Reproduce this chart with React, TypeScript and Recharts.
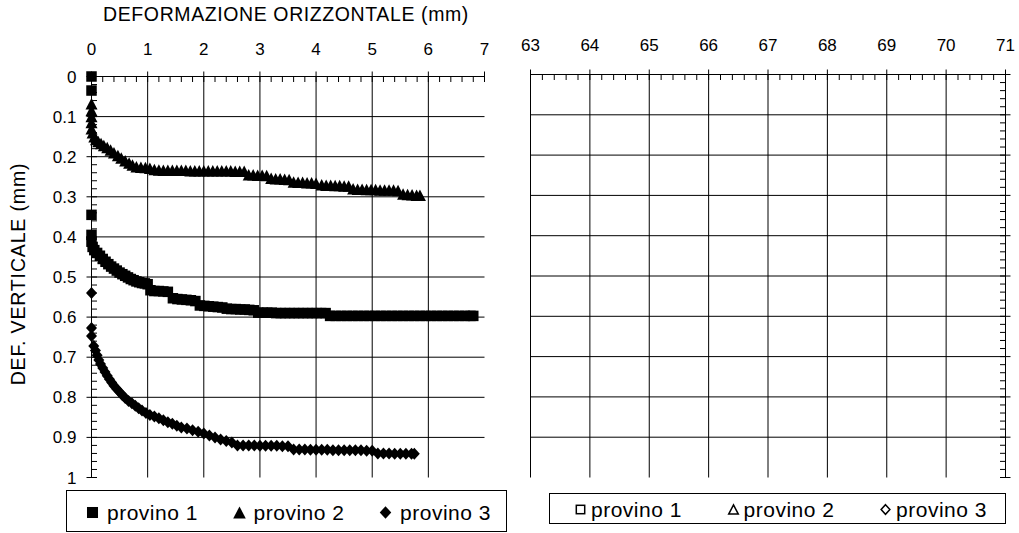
import React from "react";
import {
  ScatterChart,
  Scatter,
  XAxis,
  YAxis,
  CartesianGrid,
  Legend,
  Label,
} from "recharts";

const FONT = '"Liberation Sans", Arial, sans-serif';
const INK = "#000";

const SERIES_NAMES = ["provino 1", "provino 2", "provino 3"];
const SERIES_SHAPES = ["square", "triangle", "diamond"];

// horizontal displacement (mm), vertical displacement (mm)
const PROVINO_1: [number, number][] = [
  [0, 0], [0, 0.035], [0, 0.345], [0, 0.395], [0, 0.412], [0.02, 0.425], [0.05, 0.433],
  [0.1, 0.44], [0.15, 0.447], [0.2, 0.455], [0.25, 0.462], [0.3, 0.468], [0.35, 0.474],
  [0.4, 0.479], [0.45, 0.484], [0.5, 0.489], [0.55, 0.493], [0.6, 0.497], [0.65, 0.501],
  [0.7, 0.505], [0.75, 0.508], [0.8, 0.511], [0.85, 0.513], [0.9, 0.515], [0.95, 0.516],
  [1.0, 0.518], [1.05, 0.533], [1.12, 0.535], [1.2, 0.535], [1.28, 0.536], [1.36, 0.537],
  [1.45, 0.553], [1.53, 0.555], [1.61, 0.556], [1.69, 0.557], [1.77, 0.558], [1.85, 0.56],
  [1.93, 0.571], [2.01, 0.572], [2.09, 0.573], [2.17, 0.574], [2.25, 0.575], [2.33, 0.576],
  [2.41, 0.579], [2.49, 0.58], [2.57, 0.58], [2.65, 0.581], [2.73, 0.581], [2.81, 0.582],
  [2.89, 0.583], [2.97, 0.589], [3.05, 0.589], [3.13, 0.589], [3.21, 0.589], [3.29, 0.59],
  [3.37, 0.59], [3.45, 0.59], [3.53, 0.59], [3.61, 0.59], [3.69, 0.59], [3.77, 0.59],
  [3.85, 0.59], [3.93, 0.59], [4.01, 0.59], [4.09, 0.59], [4.17, 0.59], [4.25, 0.597],
  [4.35, 0.597], [4.45, 0.597], [4.55, 0.597], [4.65, 0.597], [4.75, 0.597], [4.85, 0.597],
  [4.95, 0.597], [5.05, 0.597], [5.15, 0.597], [5.25, 0.597], [5.35, 0.597], [5.45, 0.597],
  [5.55, 0.597], [5.65, 0.597], [5.75, 0.597], [5.85, 0.597], [5.95, 0.597], [6.05, 0.597],
  [6.15, 0.597], [6.25, 0.597], [6.35, 0.597], [6.45, 0.597], [6.55, 0.597], [6.65, 0.597],
  [6.75, 0.597], [6.8, 0.597],
];

const PROVINO_2: [number, number][] = [
  [0, 0.068], [0, 0.085], [0, 0.1], [0, 0.115], [0, 0.13], [0.02, 0.14], [0.05, 0.15],
  [0.08, 0.157], [0.12, 0.162], [0.17, 0.167], [0.22, 0.172], [0.28, 0.177], [0.34, 0.183],
  [0.4, 0.19], [0.47, 0.197], [0.53, 0.203], [0.6, 0.21], [0.67, 0.216], [0.73, 0.221],
  [0.8, 0.225], [0.88, 0.226], [0.96, 0.227], [1.04, 0.229], [1.12, 0.232], [1.2, 0.233],
  [1.28, 0.234], [1.36, 0.234], [1.44, 0.234], [1.52, 0.234], [1.6, 0.234], [1.68, 0.234],
  [1.76, 0.235], [1.84, 0.235], [1.92, 0.235], [2.0, 0.235], [2.08, 0.235], [2.16, 0.235],
  [2.24, 0.235], [2.32, 0.235], [2.4, 0.235], [2.48, 0.235], [2.56, 0.236], [2.64, 0.236],
  [2.72, 0.236], [2.8, 0.245], [2.88, 0.245], [2.96, 0.246], [3.04, 0.246], [3.12, 0.247],
  [3.2, 0.254], [3.28, 0.255], [3.36, 0.255], [3.44, 0.256], [3.52, 0.257],
  [3.6, 0.263], [3.68, 0.264], [3.76, 0.264], [3.84, 0.265], [3.92, 0.265], [4.0, 0.266],
  [4.1, 0.27], [4.18, 0.271], [4.26, 0.271], [4.34, 0.272], [4.42, 0.272], [4.5, 0.273],
  [4.58, 0.273], [4.66, 0.28], [4.74, 0.281], [4.82, 0.281], [4.9, 0.282], [4.98, 0.282],
  [5.06, 0.282], [5.14, 0.283], [5.22, 0.283], [5.3, 0.283], [5.38, 0.283], [5.46, 0.284],
  [5.55, 0.293], [5.63, 0.294], [5.71, 0.295], [5.79, 0.296], [5.85, 0.296],
];

const PROVINO_3: [number, number][] = [
  [0, 0.54], [0, 0.627], [0, 0.647], [0.04, 0.672], [0.07, 0.683], [0.1, 0.695],
  [0.13, 0.707], [0.16, 0.717], [0.2, 0.727], [0.24, 0.737], [0.28, 0.746], [0.32, 0.755],
  [0.36, 0.763], [0.4, 0.771], [0.45, 0.779], [0.5, 0.787], [0.55, 0.795], [0.6, 0.802],
  [0.66, 0.809], [0.72, 0.815], [0.78, 0.821], [0.84, 0.827], [0.9, 0.833], [0.97, 0.839],
  [1.04, 0.844], [1.12, 0.848], [1.2, 0.852], [1.28, 0.857], [1.36, 0.862], [1.44, 0.866],
  [1.52, 0.871], [1.6, 0.875], [1.7, 0.878], [1.8, 0.882], [1.9, 0.886], [2.0, 0.89],
  [2.1, 0.895], [2.2, 0.9], [2.3, 0.905], [2.4, 0.909], [2.5, 0.913], [2.6, 0.92],
  [2.7, 0.92], [2.8, 0.92], [2.9, 0.92], [3.0, 0.921], [3.1, 0.921], [3.2, 0.921],
  [3.3, 0.921], [3.4, 0.922], [3.5, 0.922], [3.6, 0.93], [3.7, 0.93], [3.8, 0.93],
  [3.9, 0.931], [4.0, 0.931], [4.1, 0.931], [4.2, 0.931], [4.3, 0.932], [4.4, 0.932],
  [4.5, 0.932], [4.6, 0.932], [4.7, 0.932], [4.8, 0.932], [4.9, 0.933], [5.0, 0.933],
  [5.1, 0.94], [5.2, 0.94], [5.3, 0.94], [5.4, 0.941], [5.5, 0.941], [5.6, 0.941],
  [5.7, 0.941], [5.75, 0.941],
];

const SERIES_DATA = [PROVINO_1, PROVINO_2, PROVINO_3];

const X_MAJOR_LEFT = [0, 1, 2, 3, 4, 5, 6, 7];
const X_TICKS_LEFT = [
  0, 0.2, 0.4, 0.6, 0.8, 1, 1.2, 1.4, 1.6, 1.8, 2, 2.2, 2.4, 2.6, 2.8, 3, 3.2, 3.4, 3.6,
  3.8, 4, 4.2, 4.4, 4.6, 4.8, 5, 5.2, 5.4, 5.6, 5.8, 6, 6.2, 6.4, 6.6, 6.8, 7,
];
const X_GRID_LEFT = [1, 2, 3, 4, 5, 6];

const X_MAJOR_RIGHT = [63, 64, 65, 66, 67, 68, 69, 70, 71];
const X_TICKS_RIGHT = [
  63, 63.2, 63.4, 63.6, 63.8, 64, 64.2, 64.4, 64.6, 64.8, 65, 65.2, 65.4, 65.6, 65.8, 66,
  66.2, 66.4, 66.6, 66.8, 67, 67.2, 67.4, 67.6, 67.8, 68, 68.2, 68.4, 68.6, 68.8, 69, 69.2,
  69.4, 69.6, 69.8, 70, 70.2, 70.4, 70.6, 70.8, 71,
];
const X_GRID_RIGHT = [63, 64, 65, 66, 67, 68, 69, 70];

const Y_MAJOR = [0, 0.1, 0.2, 0.3, 0.4, 0.5, 0.6, 0.7, 0.8, 0.9, 1];
const Y_TICKS = [
  0, 0.02, 0.04, 0.06, 0.08, 0.1, 0.12, 0.14, 0.16, 0.18, 0.2, 0.22, 0.24, 0.26, 0.28, 0.3,
  0.32, 0.34, 0.36, 0.38, 0.4, 0.42, 0.44, 0.46, 0.48, 0.5, 0.52, 0.54, 0.56, 0.58, 0.6,
  0.62, 0.64, 0.66, 0.68, 0.7, 0.72, 0.74, 0.76, 0.78, 0.8, 0.82, 0.84, 0.86, 0.88, 0.9,
  0.92, 0.94, 0.96, 0.98, 1,
];
const Y_GRID = [0.1, 0.2, 0.3, 0.4, 0.5, 0.6, 0.7, 0.8, 0.9];

const toPoints = (rows: [number, number][]) => rows.map(([x, y]) => ({ x, y }));

function Marker({
  kind,
  cx,
  cy,
  hollow = false,
  scale = 1,
}: {
  kind: string;
  cx: number;
  cy: number;
  hollow?: boolean;
  scale?: number;
}) {
  const paint = hollow
    ? { fill: "#fff", stroke: INK, strokeWidth: 1.5 }
    : { fill: INK, stroke: "none" };
  if (kind === "square") {
    const s = 10.5 * scale;
    return <rect x={cx - s / 2} y={cy - s / 2} width={s} height={s} {...paint} />;
  }
  if (kind === "triangle") {
    const w = 12 * scale;
    const h = 11.5 * scale;
    return (
      <polygon
        points={`${cx},${cy - h / 2} ${cx + w / 2},${cy + h / 2} ${cx - w / 2},${cy + h / 2}`}
        {...paint}
      />
    );
  }
  const w = 11 * scale;
  const h = 12 * scale;
  return (
    <polygon
      points={`${cx},${cy - h / 2} ${cx + w / 2},${cy} ${cx},${cy + h / 2} ${cx - w / 2},${cy}`}
      {...paint}
    />
  );
}

function topTick(majors: number[], labelDy: number) {
  return (props: any) => {
    const { x, y, payload } = props;
    const major = majors.includes(payload.value);
    return (
      <g>
        <line x1={x} x2={x} y1={major ? y - 5 : y} y2={y + 5.5} stroke={INK} />
        {major && (
          <text
            x={x}
            y={y + labelDy}
            textAnchor="middle"
            fontSize={17}
            fontFamily={FONT}
            fill={INK}
          >
            {payload.value}
          </text>
        )}
      </g>
    );
  };
}

const leftYTick = (props: any) => {
  const { x, y, payload } = props;
  const major = Y_MAJOR.includes(payload.value);
  return (
    <g>
      <line x1={major ? x - 5 : x} x2={x + 5.5} y1={y} y2={y} stroke={INK} />
      {major && (
        <text
          x={x - 15}
          y={y + 6}
          textAnchor="end"
          fontSize={17}
          fontFamily={FONT}
          fill={INK}
        >
          {payload.value}
        </text>
      )}
    </g>
  );
};

const rightYTick = (props: any) => {
  const { x, y, payload } = props;
  const major = Y_MAJOR.includes(payload.value);
  return <line x1={x - 5.5} x2={major ? x + 5 : x} y1={y} y2={y} stroke={INK} />;
};

function LegendBox({
  hollow,
  padL,
  padR,
  iconGap,
}: {
  hollow: boolean;
  padL: number;
  padR: number;
  iconGap: number;
}) {
  return (
    <div
      style={{
        boxSizing: "border-box",
        width: "100%",
        height: "100%",
        border: `1px solid ${INK}`,
        background: "#fff",
        display: "flex",
        alignItems: "center",
        justifyContent: "space-between",
        padding: `3px ${padR}px 0 ${padL}px`,
        fontFamily: FONT,
        fontSize: 21,
        letterSpacing: 0.5,
        color: INK,
        lineHeight: 1,
      }}
    >
      {SERIES_NAMES.map((name, i) => (
        <span key={name} style={{ display: "flex", alignItems: "center", gap: iconGap }}>
          <svg width={13} height={13} style={{ overflow: "visible" }}>
            <Marker
              kind={SERIES_SHAPES[i]}
              cx={6.5}
              cy={6.5}
              hollow={hollow}
              scale={hollow ? 0.8 : 1.05}
            />
          </svg>
          <span>{name}</span>
        </span>
      ))}
    </div>
  );
}

export default function App() {
  return (
    <div
      style={{
        position: "absolute",
        left: 0,
        top: 0,
        width: 1019,
        height: 533,
        background: "#fff",
      }}
    >
      <div style={{ position: "absolute", left: 0, top: 0 }}>
        <ScatterChart
          width={520}
          height={533}
          margin={{ top: 46.5, right: 35.5, bottom: 55.5, left: 11.5 }}
        >
          <CartesianGrid
            stroke={INK}
            horizontalValues={Y_GRID}
            verticalValues={X_GRID_LEFT}
          />
          <XAxis
            type="number"
            dataKey="x"
            orientation="top"
            domain={[0, 7]}
            ticks={X_TICKS_LEFT}
            interval={0}
            tickSize={0}
            tickMargin={0}
            tickLine={false}
            tick={topTick(X_MAJOR_LEFT, -21.5)}
            axisLine={{ stroke: INK }}
            height={30}
          >
            <Label
              content={() => (
                <text
                  x={286}
                  y={20.5}
                  textAnchor="middle"
                  fontSize={19.5}
                  fontFamily={FONT}
                  letterSpacing={0.6}
                  fill={INK}
                >
                  DEFORMAZIONE ORIZZONTALE (mm)
                </text>
              )}
            />
          </XAxis>
          <YAxis
            type="number"
            dataKey="y"
            reversed
            domain={[0, 1]}
            ticks={Y_TICKS}
            interval={0}
            tickSize={0}
            tickMargin={0}
            tickLine={false}
            tick={leftYTick}
            axisLine={{ stroke: INK }}
            width={80}
          >
            <Label
              content={() => (
                <text
                  x={25}
                  y={274}
                  transform="rotate(-90 25 274)"
                  textAnchor="middle"
                  fontSize={19.5}
                  fontFamily={FONT}
                  letterSpacing={0.85}
                  fill={INK}
                >
                  DEF. VERTICALE (mm)
                </text>
              )}
            />
          </YAxis>
          <Legend
            align="center"
            verticalAlign="middle"
            layout="horizontal"
            wrapperStyle={{ left: 66, top: 490, width: 441, height: 42 }}
            content={() => <LegendBox hollow={false} padL={19} padR={15} iconGap={8} />}
          />
          {SERIES_DATA.map((rows, i) => (
            <Scatter
              key={SERIES_NAMES[i]}
              name={SERIES_NAMES[i]}
              data={toPoints(rows)}
              fill={INK}
              isAnimationActive={false}
              shape={(p: any) => <Marker kind={SERIES_SHAPES[i]} cx={p.cx} cy={p.cy} />}
            />
          ))}
        </ScatterChart>
      </div>
      <div style={{ position: "absolute", left: 500, top: 0 }}>
        <ScatterChart
          width={519}
          height={533}
          margin={{ top: 44.5, right: 3.5, bottom: 55.5, left: 30.5 }}
        >
          <CartesianGrid
            stroke={INK}
            horizontalValues={Y_GRID}
            verticalValues={X_GRID_RIGHT}
          />
          <XAxis
            type="number"
            dataKey="x"
            orientation="top"
            domain={[63, 71]}
            allowDataOverflow
            ticks={X_TICKS_RIGHT}
            interval={0}
            tickSize={0}
            tickMargin={0}
            tickLine={false}
            tick={topTick(X_MAJOR_RIGHT, -23.5)}
            axisLine={{ stroke: INK }}
            height={30}
          />
          <YAxis
            type="number"
            dataKey="y"
            orientation="right"
            reversed
            domain={[0, 1]}
            allowDataOverflow
            ticks={Y_TICKS}
            interval={0}
            tickSize={0}
            tickMargin={0}
            tickLine={false}
            tick={rightYTick}
            axisLine={{ stroke: INK }}
            width={10}
          />
          <Legend
            align="center"
            verticalAlign="middle"
            layout="horizontal"
            wrapperStyle={{ left: 49, top: 492.5, width: 457, height: 31 }}
            content={() => <LegendBox hollow padL={24} padR={18} iconGap={4} />}
          />
          {SERIES_NAMES.map((name, i) => (
            <Scatter
              key={name}
              name={name}
              data={[]}
              fill="#fff"
              stroke={INK}
              isAnimationActive={false}
              shape={(p: any) => <Marker kind={SERIES_SHAPES[i]} cx={p.cx} cy={p.cy} hollow />}
            />
          ))}
        </ScatterChart>
      </div>
    </div>
  );
}
